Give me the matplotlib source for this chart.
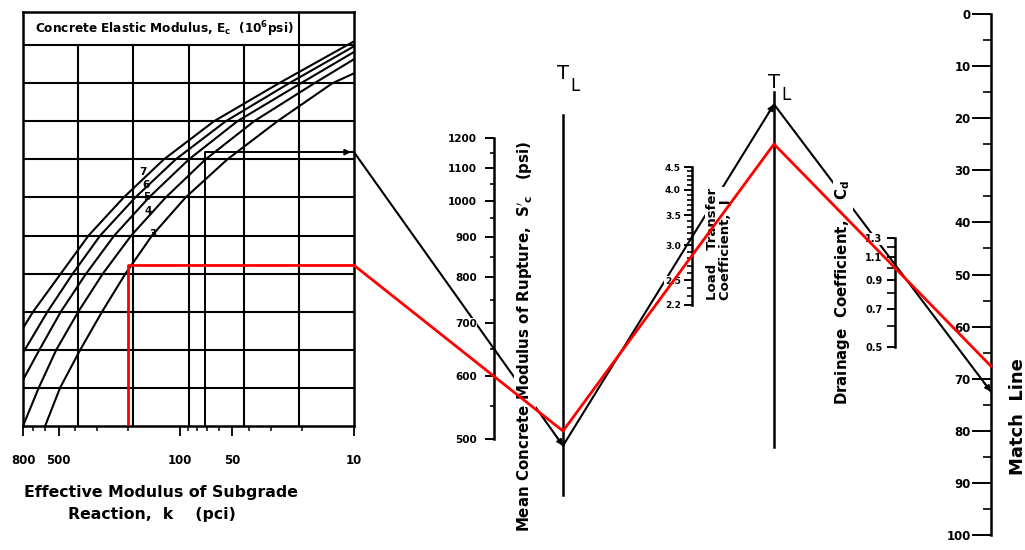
import matplotlib
matplotlib.use("Agg")
import matplotlib.pyplot as plt
import numpy as np
from matplotlib.ticker import FixedLocator, FixedFormatter, NullFormatter, NullLocator
from matplotlib.transforms import blended_transform_factory

plt.rcParams["font.family"] = "DejaVu Sans"
plt.rcParams["font.weight"] = "bold"
plt.rcParams["mathtext.default"] = "bf"

W, H = 1025, 550

# ---- values read off the nomograph ----
# subgrade modulus axis (pci)
k_major = [800, 500, 100, 50, 10]
k_minor = [700, 600, 400, 300, 200, 90, 80, 70, 60, 40, 30, 20]

# Ec curves: k where each curve crosses the chart rows (rows counted from the bottom)
ec_names = ["3", "4", "5", "6", "7"]
ec3_rows = [0, 1, 2, 3, 4, 5, 6, 7, 8, 9, 9.26]
ec3_k = [597, 490, 375, 281, 206, 145, 93, 53.5, 27.6, 13.3, 10]
ec4_rows = [0, 1, 2, 3, 4, 5, 6, 7, 8, 9, 9.63]
ec4_k = [800, 650, 515, 385, 278, 191, 121, 71.4, 37.6, 16.9, 10]
ec5_rows = [1.21, 2, 3, 4, 5, 6, 7, 8, 9, 9.82]
ec5_k = [800, 644, 485, 347, 239, 151, 89, 46.9, 20.2, 10]
ec6_rows = [1.92, 3, 4, 5, 6, 7, 8, 9, 9.97]
ec6_k = [800, 579, 414, 288, 181, 106, 54.7, 23.6, 10]
ec7_rows = [2.57, 3, 4, 5, 6, 7, 8, 9, 10.1]
ec7_k = [800, 700, 485, 336, 211, 124, 63.9, 27, 10]
ec_label_k = [144, 152, 155, 158, 163]
ec_label_row = [5.03, 5.64, 6.0, 6.33, 6.67]

# modulus of rupture S'c (psi)
sc_major = [500, 600, 700, 800, 900, 1000, 1100, 1200]
sc_minor = [550, 650, 750, 850, 950, 1050, 1150]

# load transfer J
j_major = [2.2, 2.5, 3.0, 3.5, 4.0, 4.5]
j_labels = ["2.2", "2.5", "3.0", "3.5", "4.0", "4.5"]
j_minor = [2.3, 2.4, 2.6, 2.7, 2.8, 2.9, 3.1, 3.2, 3.3, 3.4,
           3.6, 3.7, 3.8, 3.9, 4.1, 4.2, 4.3, 4.4]

# drainage coefficient Cd
cd_major = [1.3, 1.1, 0.9, 0.7, 0.5]
cd_labels = ["1.3", "1.1", "0.9", "0.7", "0.5"]
cd_minor = [1.2, 1.0, 0.8, 0.6]

# match line
m_major = [0, 10, 20, 30, 40, 50, 60, 70, 80, 90, 100]
m_minor = [5, 15, 25, 35, 45, 55, 65, 75, 85, 95]

# worked examples: black = printed example, red = drawn over it
black_k, black_row, black_sc, black_cd, black_match = 72, 7.19, 650, 1.03, 72.5
red_k, red_row, red_sc, red_cd, red_match = 200, 4.22, 600, 1.0, 67.6

fig = plt.figure(figsize=(W / 100, H / 100), dpi=100)


def px_axes(x0, y0, x1, y1, z):
    return fig.add_axes([x0 / W, 1 - y1 / H, (x1 - x0) / W, (y1 - y0) / H], zorder=z)


# ---------------- left chart ----------------
ax = px_axes(23, 12, 354, 426, 3)
ax.set_xscale("log")
ax.set_xlim(800, 10)
ax.set_ylim(0, 10.87)
ax.xaxis.set_major_locator(FixedLocator(k_major))
ax.xaxis.set_major_formatter(FixedFormatter([str(v) for v in k_major]))
ax.xaxis.set_minor_locator(FixedLocator(k_minor))
ax.xaxis.set_minor_formatter(NullFormatter())
ax.yaxis.set_major_locator(NullLocator())
ax.yaxis.set_minor_locator(NullLocator())
ax.tick_params(axis="x", which="major", length=7, width=1.3, labelsize=8.5, pad=13)
ax.tick_params(axis="x", which="minor", length=3.5, width=1.1)
for s in ax.spines.values():
    s.set_linewidth(1.8)

colx = blended_transform_factory(ax.transAxes, ax.transData)
ax.hlines(range(1, 11), 0, 1, transform=colx, color="k", lw=1.5)
ax.vlines([1 / 6, 2 / 6, 3 / 6, 4 / 6], 0, 10, transform=colx, color="k", lw=1.5)
ax.vlines([5 / 6], 0, 10.87, transform=colx, color="k", lw=1.5)
ax.text(2.57 / 6, 10.43, r"Concrete Elastic Modulus, $E_c$  (10$^6$psi)",
        transform=colx, ha="center", va="center", fontsize=8.7)

for k, r in [(ec3_k, ec3_rows), (ec4_k, ec4_rows), (ec5_k, ec5_rows),
             (ec6_k, ec6_rows), (ec7_k, ec7_rows)]:
    ax.plot(k, r, color="k", lw=1.5, solid_joinstyle="round")
for name, k, r in zip(ec_names, ec_label_k, ec_label_row):
    ax.text(k, r, name, fontsize=7.5, ha="center", va="center")

ax.plot([black_k, black_k, 10], [0, black_row, black_row], color="k", lw=1.4)
ax.plot([red_k, red_k, 10], [0, red_row, red_row], color="red", lw=2, zorder=6)

fig.text(161 / W, 1 - 492 / H, "Effective Modulus of Subgrade",
         ha="center", va="center", fontsize=11.3)
fig.text(152 / W, 1 - 515 / H, "Reaction,  k    (pci)",
         ha="center", va="center", fontsize=11.3)


# ---------------- scales ----------------
def scale_axis(x, ytop, ybot, lims, log, major, labels, minor, maj_len, min_len, fs, pad):
    a = px_axes(x, ytop, x + 1, ybot, 2)
    a.set_facecolor("none")
    for s in ["top", "right", "bottom"]:
        a.spines[s].set_visible(False)
    a.spines["left"].set_linewidth(1.8)
    a.set_xticks([])
    if log:
        a.set_yscale("log")
    a.set_ylim(*lims)
    a.yaxis.set_major_locator(FixedLocator(major))
    a.yaxis.set_major_formatter(FixedFormatter(labels))
    a.yaxis.set_minor_locator(FixedLocator(minor))
    a.yaxis.set_minor_formatter(NullFormatter())
    a.tick_params(axis="y", which="major", length=maj_len, width=1.4,
                  labelsize=fs, pad=pad)
    a.tick_params(axis="y", which="minor", length=min_len, width=1.2)
    for t in a.get_yticklabels():
        t.set_bbox(dict(facecolor="white", edgecolor="none", pad=0.6))
    return a


sc_ax = scale_axis(494, 138, 439, (500, 1200), True, sc_major,
                   [str(v) for v in sc_major], sc_minor, 6.5, 3, 7.5, 6)
j_ax = scale_axis(692, 167, 305, (2.2, 4.5), True, j_major, j_labels, j_minor,
                  6, 3.5, 6.5, 2)
cd_ax = scale_axis(895, 238, 347, (0.5, 1.3), True, cd_major, cd_labels, cd_minor,
                   6, 6, 7, 3)
m_ax = scale_axis(991, 14, 535, (100, 0), False, m_major,
                  [str(v) for v in m_major], m_minor, 13.5, 6, 8.5, 1)


def turning_line(x, ytop, ybot):
    a = px_axes(x, ytop, x + 1, ybot, 2)
    a.set_facecolor("none")
    for s in ["top", "right", "bottom"]:
        a.spines[s].set_visible(False)
    a.spines["left"].set_linewidth(1.8)
    a.set_xticks([])
    a.set_yticks([])
    return a


tl1 = turning_line(563, 115, 495)
tl2 = turning_line(774, 92, 447)

# overlays in pixel units: black path under the labels, red path on top
ovb = px_axes(0, 0, W, H, 1)
ovr = px_axes(0, 0, W, H, 6)
for o in (ovb, ovr):
    o.set_xlim(0, W)
    o.set_ylim(H, 0)
    o.axis("off")
    o.patch.set_visible(False)


def P(a, x, y):
    return ovb.transData.inverted().transform(a.transData.transform((x, y)))


def extend(p, q, x):
    return p + (q - p) * (x - p[0]) / (q[0] - p[0])


x_tl1 = P(tl1, 0, 0)[0]
x_tl2 = P(tl2, 0, 0)[0]


def example_path(row, sc, cd, match):
    b = P(ax, 10, row)
    t1 = extend(b, P(sc_ax, 0, sc), x_tl1)
    m = P(m_ax, 0, match)
    t2 = extend(m, P(cd_ax, 0, cd), x_tl2)
    return np.array([b, t1, t2, m])


def head(o, p, q, color):
    d = (q - p) / np.hypot(*(q - p))
    o.annotate("", xy=q, xytext=q - 11 * d,
               arrowprops=dict(arrowstyle="-|>", color=color, lw=1.2,
                               mutation_scale=9, shrinkA=0, shrinkB=0))


bp = example_path(black_row, black_sc, black_cd, black_match)
ovb.plot(bp[:, 0], bp[:, 1], color="k", lw=1.5)
for i in range(3):
    head(ovb, bp[i], bp[i + 1], "k")
corner = P(ax, 10, black_row)
head(ovr, corner - np.array([40, 0]), corner - np.array([3, 0]), "k")

rp = example_path(red_row, red_sc, red_cd, red_match)
ovr.plot(rp[:, 0], rp[:, 1], color="red", lw=2)

# titles of the scales
sc_ax.text(525, 336, r"Mean Concrete Modulus of Rupture,  $S'_c$   (psi)",
           transform=ovb.transData, rotation=90, ha="center", va="center",
           fontsize=10.8, bbox=dict(facecolor="white", edgecolor="none", pad=0.5))
j_ax.text(719, 300, "Load   Transfer\nCoefficient,  J", transform=ovb.transData,
          rotation=90, ha="center", va="bottom", multialignment="left",
          fontsize=9.5, linespacing=1.05,
          bbox=dict(facecolor="white", edgecolor="none", pad=0.5))
cd_ax.text(843, 405, r"Drainage  Coefficient,    C$_d$", transform=ovb.transData,
           rotation=90, ha="center", va="bottom", fontsize=10.8,
           bbox=dict(facecolor="white", edgecolor="none", pad=0.5))
m_ax.text(1018, 475, "Match  Line", transform=ovb.transData, rotation=90,
          ha="center", va="bottom", fontsize=13)

# turning-line labels
for x, base in ((x_tl1, 79), (x_tl2, 88)):
    ovr.text(x, base, "T", fontsize=14, fontweight="normal",
             ha="center", va="baseline")
    ovr.text(x + 7, base + 12, "L", fontsize=12, fontweight="normal",
             ha="left", va="baseline")

fig.savefig("out.png", dpi=100)
